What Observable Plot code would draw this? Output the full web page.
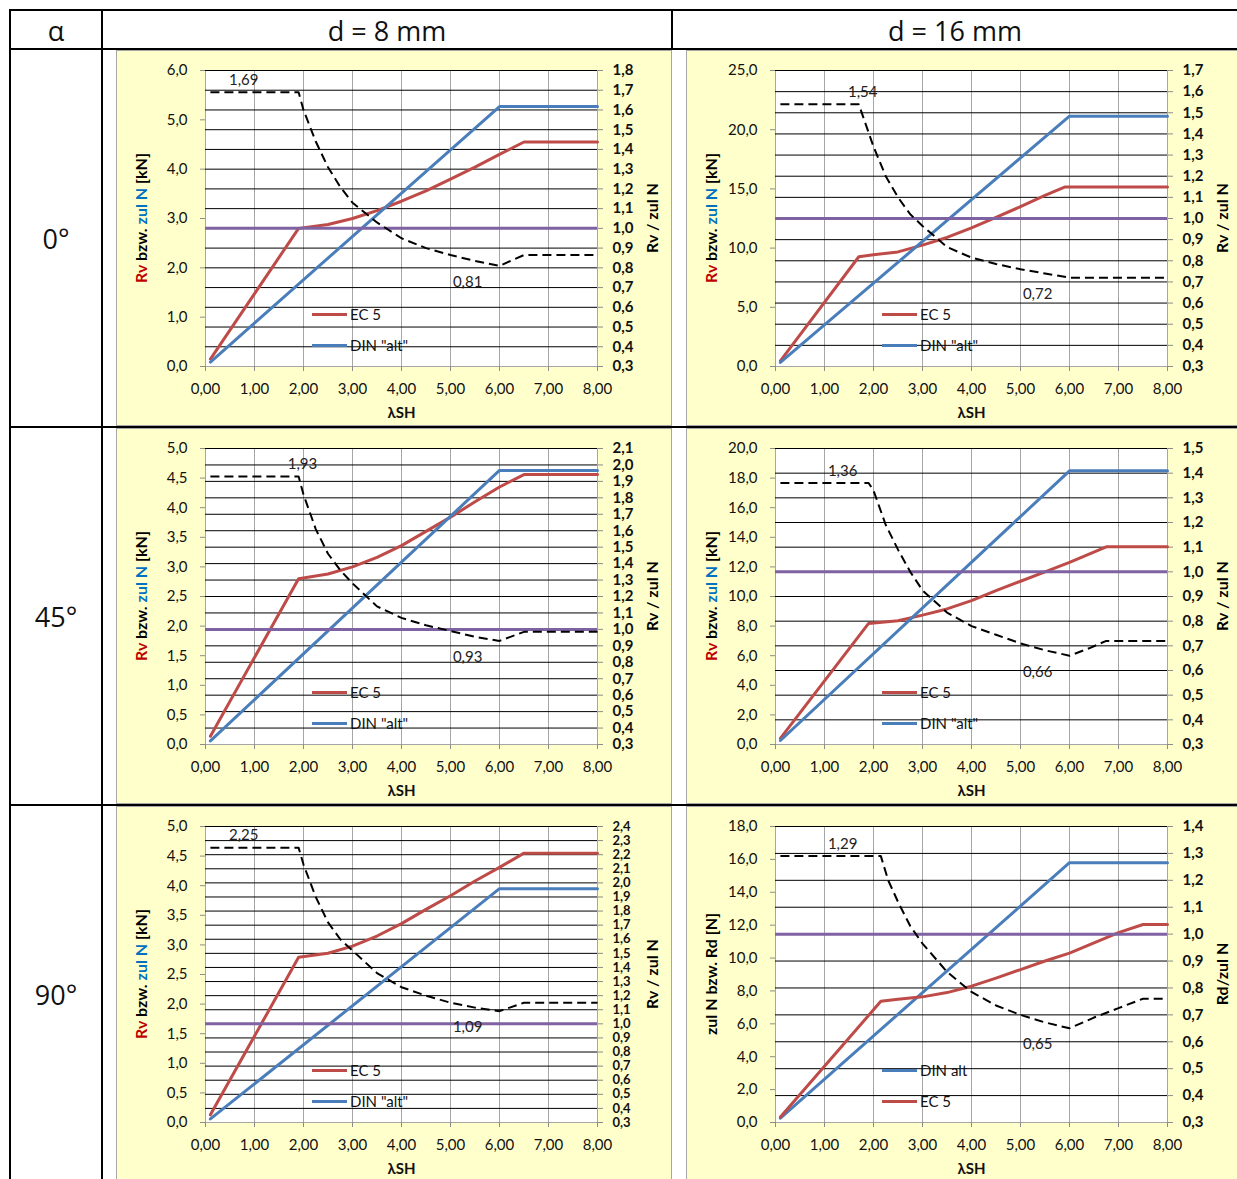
<!DOCTYPE html>
<html>
<head>
<meta charset="utf-8">
<script src="https://cdn.jsdelivr.net/npm/d3@7"></script>
<script src="https://cdn.jsdelivr.net/npm/@observablehq/plot@0.6"></script>
<style>
  body { margin: 0; background: #fff; }
  #page { position: relative; width: 1237px; height: 1179px; overflow: hidden; font-family: Lato, "Noto Sans", sans-serif; color: #111; }
  .rule { position: absolute; background: #000; }
  .head { position: absolute; font-size: 27px; transform: translate(-50%, -50%); white-space: nowrap; font-family: "Open Sans", "Noto Sans", sans-serif; }
  .panel { position: absolute; background: #FFFFCC; border: 1px solid #A6A6A6; overflow: hidden; }
  .panel > svg { position: absolute; left: 0; top: 0; }
  .ytitle { position: absolute; font-weight: bold; font-size: 16px; white-space: nowrap; transform: translate(-50%, -50%) rotate(-90deg); color: #000; }
  .key { position: absolute; height: 3px; width: 35px; }
  .keytext { position: absolute; font-size: 15px; white-space: nowrap; color: #111; line-height: 18px; }
</style>
</head>
<body>
<div id="page"></div>
<script>
// ---- series: [λSH, value] ----
// α = 0°, d = 8 mm
const ec5_0_8   = [[0.1,0.15],[1.9,2.8],[2.5,2.88],[3.0,3.0],[3.5,3.16],[4.0,3.35],[4.5,3.56],[5.0,3.8],[5.5,4.04],[6.0,4.3],[6.5,4.55],[8.0,4.55]];
const din_0_8   = [[0.1,0.09],[6.0,5.27],[8.0,5.27]];
const ratio_0_8 = [[0.1,1.69],[1.9,1.69],[2.0,1.6],[2.25,1.44],[2.5,1.31],[2.75,1.21],[3.0,1.13],[3.5,1.03],[4.0,0.95],[4.5,0.9],[5.0,0.865],[5.5,0.835],[6.0,0.81],[6.5,0.865],[8.0,0.865]];
// α = 0°, d = 16 mm
const ec5_0_16   = [[0.1,0.48],[1.7,9.27],[2.0,9.44],[2.5,9.68],[3.0,10.25],[3.5,10.9],[4.0,11.7],[4.5,12.6],[5.0,13.5],[5.5,14.45],[5.9,15.16],[8.0,15.16]];
const din_0_16   = [[0.1,0.34],[6.0,21.14],[8.0,21.14]];
const ratio_0_16 = [[0.1,1.54],[1.7,1.54],[2.0,1.34],[2.25,1.2],[2.5,1.1],[2.75,1.02],[3.0,0.965],[3.5,0.865],[4.0,0.815],[4.5,0.785],[5.0,0.76],[5.5,0.74],[6.0,0.72],[8.0,0.72]];
// α = 45°, d = 8 mm
const ec5_45_8   = [[0.1,0.14],[1.9,2.8],[2.5,2.88],[3.0,3.0],[3.5,3.16],[4.0,3.36],[4.5,3.6],[5.0,3.84],[5.5,4.1],[6.0,4.35],[6.5,4.56],[8.0,4.56]];
const din_45_8   = [[0.1,0.06],[6.0,4.63],[8.0,4.63]];
const ratio_45_8 = [[0.1,1.93],[1.9,1.93],[2.0,1.82],[2.25,1.61],[2.5,1.46],[2.75,1.36],[3.0,1.28],[3.5,1.14],[4.0,1.07],[4.5,1.025],[5.0,0.99],[5.5,0.955],[6.0,0.93],[6.5,0.985],[8.0,0.985]];
// α = 45°, d = 16 mm
const ec5_45_16   = [[0.1,0.41],[1.9,8.18],[2.5,8.36],[3.0,8.74],[3.5,9.16],[4.0,9.72],[4.5,10.4],[5.0,11.03],[5.5,11.66],[6.0,12.3],[6.75,13.36],[8.0,13.36]];
const din_45_16   = [[0.1,0.27],[6.0,18.49],[8.0,18.49]];
const ratio_45_16 = [[0.1,1.36],[1.9,1.36],[2.0,1.33],[2.25,1.19],[2.5,1.09],[2.75,1.0],[3.0,0.925],[3.5,0.835],[4.0,0.78],[4.5,0.745],[5.0,0.71],[5.5,0.682],[6.0,0.66],[6.4,0.69],[6.75,0.72],[8.0,0.72]];
// α = 90°, d = 8 mm
const ec5_90_8   = [[0.1,0.13],[1.9,2.79],[2.5,2.86],[3.0,2.98],[3.5,3.15],[4.0,3.36],[4.5,3.6],[5.0,3.83],[5.5,4.08],[6.0,4.31],[6.5,4.55],[8.0,4.55]];
const din_90_8   = [[0.1,0.06],[6.0,3.95],[8.0,3.95]];
const ratio_90_8 = [[0.1,2.25],[1.9,2.25],[2.0,2.13],[2.25,1.9],[2.5,1.72],[2.75,1.6],[3.0,1.52],[3.5,1.36],[4.0,1.26],[4.5,1.2],[5.0,1.15],[5.5,1.115],[6.0,1.09],[6.5,1.15],[8.0,1.15]];
// α = 90°, d = 16 mm
const din_90_16   = [[0.1,0.26],[6.0,15.8],[8.0,15.8]];
const ec5_90_16   = [[0.1,0.33],[2.15,7.37],[2.5,7.5],[3.0,7.64],[3.5,7.9],[4.0,8.29],[4.5,8.78],[5.0,9.3],[5.5,9.82],[6.0,10.3],[6.5,10.93],[7.0,11.55],[7.5,12.04],[8.0,12.04]];
const ratio_90_16 = [[0.1,1.29],[2.15,1.29],[2.3,1.2],[2.5,1.12],[2.75,1.03],[3.0,0.965],[3.5,0.86],[4.0,0.785],[4.5,0.735],[5.0,0.7],[5.5,0.672],[6.0,0.65],[6.5,0.69],[7.0,0.725],[7.5,0.76],[8.0,0.76]];

// ---- table headings ----
const colHeads = ["α", "d = 8 mm", "d = 16 mm"];
const rowHeads = ["0°", "45°", "90°"];
const xTicks = [0, 1, 2, 3, 4, 5, 6, 7, 8];

const RED = "#BE4B48", BLUE = "#4A7EBB", PURPLE = "#7F62A1";
const FONT = 'Lato, "Noto Sans", sans-serif';

const titleRv = '<span style="color:#C00000">Rv</span> bzw. <span style="color:#0070C0">zul N</span> [kN]';
const titleRd = 'zul N bzw. Rd [N]';

const panels = [
  {row: 0, col: 0, ec5: ec5_0_8,   din: din_0_8,   ratio: ratio_0_8,   left: [0, 6],  lstep: 1,   right: [0.3, 1.8], peakX: 0.78, dipX: 5.35, ltitle: titleRv, rtitle: "Rv / zul N", legend: ["EC 5", 'DIN "alt"']},
  {row: 0, col: 1, ec5: ec5_0_16,  din: din_0_16,  ratio: ratio_0_16,  left: [0, 25], lstep: 5,   right: [0.3, 1.7], peakX: 1.78, dipX: 5.35, ltitle: titleRv, rtitle: "Rv / zul N", legend: ["EC 5", 'DIN "alt"']},
  {row: 1, col: 0, ec5: ec5_45_8,  din: din_45_8,  ratio: ratio_45_8,  left: [0, 5],  lstep: 0.5, right: [0.3, 2.1], peakX: 1.98, dipX: 5.35, ltitle: titleRv, rtitle: "Rv / zul N", legend: ["EC 5", 'DIN "alt"']},
  {row: 1, col: 1, ec5: ec5_45_16, din: din_45_16, ratio: ratio_45_16, left: [0, 20], lstep: 2,   right: [0.3, 1.5], peakX: 1.37, dipX: 5.35, ltitle: titleRv, rtitle: "Rv / zul N", legend: ["EC 5", 'DIN "alt"']},
  {row: 2, col: 0, ec5: ec5_90_8,  din: din_90_8,  ratio: ratio_90_8,  left: [0, 5],  lstep: 0.5, right: [0.3, 2.4], peakX: 0.78, dipX: 5.35, ltitle: titleRv, rtitle: "Rv / zul N", legend: ["EC 5", 'DIN "alt"']},
  {row: 2, col: 1, ec5: ec5_90_16, din: din_90_16, ratio: ratio_90_16, left: [0, 18], lstep: 2,   right: [0.3, 1.4], peakX: 1.37, dipX: 5.35, ltitle: titleRd, rtitle: "Rd/zul N",   legend: ["DIN alt", "EC 5"]}
];

const comma = (d, n) => d.toFixed(n).replace(".", ",");
const stepTicks = (lo, hi, step) => d3.range(Math.round((hi - lo) / step) + 1).map(i => +(lo + i * step).toFixed(3));

// ---- layout ----
const page = document.getElementById("page");
function el(cls, css, html) {
  const e = document.createElement("div");
  e.className = cls;
  Object.assign(e.style, css);
  if (html != null) e.innerHTML = html;
  return e;
}

// table grid
const rowTops = [48, 426, 804];
page.append(el("rule", {left: "9px", top: "9px", width: "1228px", height: "2px"}));
rowTops.forEach(t => page.append(el("rule", {left: "9px", top: t + "px", width: "1228px", height: "2px"})));
page.append(el("rule", {left: "9px", top: "9px", width: "2px", height: "1170px"}));
page.append(el("rule", {left: "101px", top: "9px", width: "2px", height: "1170px"}));
page.append(el("rule", {left: "671px", top: "9px", width: "2px", height: "40px"}));

const colCenters = [56, 387, 955];
colHeads.forEach((h, i) => page.append(el("head", {left: colCenters[i] + "px", top: "30px"}, h)));
const rowCenters = [238, 616, 994];
rowHeads.forEach((h, i) => page.append(el("head", {left: "56px", top: rowCenters[i] + "px"}, h)));

// chart geometry
const H = 374, ML = 88, MT = 19, PW = 392, PH = 296;
const panelLeft = [116, 686], panelW = [554, 550];
const panelTop = [50, 428, 806];

function drawPanel(p) {
  const W = panelW[p.col];
  const box = el("panel", {left: panelLeft[p.col] + "px", top: panelTop[p.row] + "px", width: W + "px", height: H + "px"});
  page.append(box);

  const rTicks = stepTicks(p.right[0], p.right[1], 0.1);
  const lTicks = stepTicks(p.left[0], p.left[1], p.lstep);
  // tighter type where the ratio axis is crowded
  const rSize = PH / (rTicks.length - 1) < 15 ? 13 : 15;
  const base = {
    width: W, height: H,
    marginLeft: ML, marginRight: W - ML - PW, marginTop: MT, marginBottom: H - MT - PH,
    style: {background: "none", fontFamily: FONT, fontSize: "15px", color: "#111", overflow: "visible"}
  };

  // background, grid, right and bottom axes
  const back = Plot.plot({
    ...base,
    x: {domain: [0, 8]},
    y: {domain: p.right},
    marks: [
      Plot.frame({fill: "#fff", stroke: null}),
      Plot.ruleX(xTicks, {stroke: "#A6A6A6", strokeWidth: 1}),
      Plot.ruleY(rTicks.slice(1), {stroke: "#000", strokeWidth: 1}),
      Plot.ruleY(rTicks.slice(0, 1), {stroke: "#A6A6A6", strokeWidth: 1}),
      Plot.axisY({anchor: "right", ticks: rTicks, tickFormat: d => comma(d, 1), tickSize: 5, tickPadding: 10,
                  fontWeight: "bold", fontSize: rSize, stroke: "#8C8C8C", fill: "#111", label: null}),
      Plot.axisX({ticks: xTicks, tickFormat: d => comma(d, 2), tickSize: 5, tickPadding: 12,
                  stroke: "#8C8C8C", fill: "#111", label: null}),
      Plot.text(["λSH"], {frameAnchor: "bottom", dy: 51, fontWeight: "bold", fontSize: 15, fill: "#111"})
    ]
  });

  // resistance curves on the left scale
  const lines = {
    "EC 5": Plot.line(p.ec5, {x: d => d[0], y: d => d[1], stroke: RED, strokeWidth: 3}),
    "DIN": Plot.line(p.din, {x: d => d[0], y: d => d[1], stroke: BLUE, strokeWidth: 3})
  };
  const order = p.legend[0].startsWith("DIN") ? ["DIN", "EC 5"] : ["EC 5", "DIN"];
  const mid = Plot.plot({
    ...base,
    x: {domain: [0, 8], axis: null},
    y: {domain: p.left},
    marks: [
      Plot.axisY({anchor: "left", ticks: lTicks, tickFormat: d => comma(d, 1), tickSize: 5, tickPadding: 13,
                  stroke: "#8C8C8C", fill: "#111", label: null}),
      ...order.map(k => lines[k])
    ]
  });

  // ratio Rv / zul N on the right scale
  const peak = p.ratio[0][1];
  const dip = d3.min(p.ratio, d => d[1]);
  const front = Plot.plot({
    ...base,
    x: {domain: [0, 8], axis: null},
    y: {domain: p.right, axis: null},
    marks: [
      Plot.ruleY([1.0], {stroke: PURPLE, strokeWidth: 3}),
      Plot.line(p.ratio, {x: d => d[0], y: d => d[1], stroke: "#000", strokeWidth: 2, strokeDasharray: "9,5", strokeLinecap: "butt"}),
      Plot.text([{x: p.peakX, v: peak}], {x: "x", y: "v", text: d => comma(d.v, 2), dy: -12, fill: "#222", fontSize: 15}),
      Plot.text([{x: p.dipX, v: dip}], {x: "x", y: "v", text: d => comma(d.v, 2), dy: 16, fill: "#222", fontSize: 15})
    ]
  });

  box.append(back, mid, front);

  // axis titles
  box.append(el("ytitle", {left: "23px", top: (MT + PH / 2) + "px"}, p.ltitle));
  box.append(el("ytitle", {left: "534px", top: (MT + PH / 2) + "px"}, p.rtitle));

  // legend
  p.legend.forEach((name, i) => {
    const color = name.startsWith("DIN") ? BLUE : RED;
    const y = 263 + i * 31;
    box.append(el("key", {left: "195px", top: (y - 1.5) + "px", background: color}));
    const t = el("keytext", {left: "233px", top: (y - 9) + "px"});
    t.textContent = name;
    box.append(t);
  });
}

panels.forEach(drawPanel);
</script>
</body>
</html>
